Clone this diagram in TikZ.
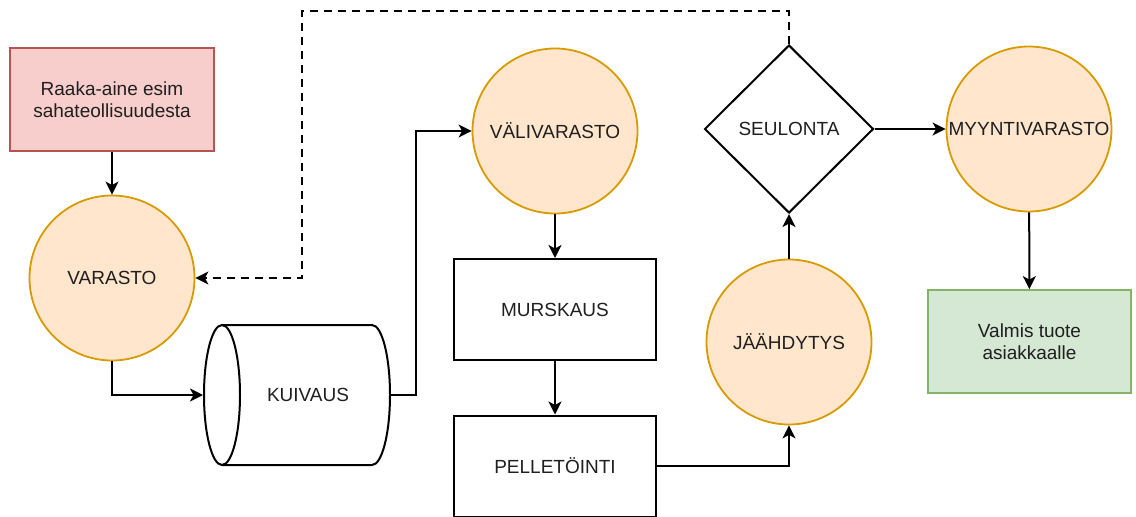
\documentclass[tikz,border=0pt]{standalone}
\usepackage{fontspec}
\setmainfont{Liberation Sans}
\usetikzlibrary{arrows.meta,shapes.geometric}
\definecolor{varfill}{HTML}{FFE6CC}
\definecolor{varline}{HTML}{D79B00}
\definecolor{redfill}{HTML}{F8CECC}
\definecolor{redline}{HTML}{B85450}
\definecolor{grnfill}{HTML}{D5E8D4}
\definecolor{grnline}{HTML}{82B366}

\begin{document}
\begin{tikzpicture}[x=1pt, y=-1pt,
  font=\fontsize{19}{22.5}\selectfont, text=black!88,
  varasto/.style={circle, draw=varline, fill=varfill, line width=1.8pt, minimum size=165pt, inner sep=0pt},
  vaihe/.style={rectangle, draw, line width=2pt, minimum width=202pt, minimum height=101pt},
  nuoli/.style={line width=2pt, -{Stealth[length=13pt, width=13pt, inset=3.5pt]}}]
\useasboundingbox (0,0) rectangle (1136,517);
%%%%%%%%%
\node (raaka) [rectangle, draw=redline, fill=redfill, line width=1.8pt, minimum width=204pt, minimum height=103pt, align=center] at (112,99.5) {Raaka-aine esim\\sahateollisuudesta};
\node (var) [varasto] at (112,278) {VARASTO};
% kuivaus rumpu
\draw [line width=2pt] (222,395) ellipse [x radius=18pt, y radius=70pt];
\draw [line width=2pt] (222,325) -- (372,325) arc [start angle=90, end angle=-90, x radius=18pt, y radius=70pt] -- (222,465);
\node (kuiv) [minimum width=186pt, minimum height=140pt, inner sep=0pt, outer sep=1pt] at (297,395) {\hspace*{22pt}KUIVAUS};
\node (vali) [varasto] at (555,131) {VÄLIVARASTO};
\node (mursk) [vaihe] at (555,309.5) {MURSKAUS};
\node (pell) [vaihe] at (555,466) {PELLETÖINTI};
\node (jaah) [varasto] at (789,342) {JÄÄHDYTYS};
\node (seul) [diamond, draw, line width=2pt, minimum width=169pt, minimum height=168pt, inner sep=0pt] at (789,129) {SEULONTA};
\node (myynti) [varasto] at (1029,129) {MYYNTIVARASTO};
\node (valmis) [rectangle, draw=grnline, fill=grnfill, line width=1.8pt, minimum width=203pt, minimum height=103pt, align=center] at (1029.5,341.5) {Valmis tuote\\asiakkaalle};
%%%%%%%%%
\coordinate (ylä) at (302,11);
\coordinate (kaari) at (416,131);
\draw [nuoli] (raaka) -- (var);
\draw [nuoli] (var.south) |- (kuiv.west);
\draw [nuoli] (kuiv.east) -| (kaari) -- (vali.west);
\draw [nuoli] (vali) -- (mursk);
\draw [nuoli] (mursk) -- (pell);
\draw [nuoli] (pell.east) -| (jaah.south);
\draw [nuoli] (jaah) -- (seul);
\draw [nuoli] (seul) -- (myynti);
\draw [nuoli] (myynti) -- (valmis);
\draw [nuoli, dash pattern=on 8pt off 6pt] (seul.north) |- (ylä) |- (var.east);
\end{tikzpicture}
\end{document}
